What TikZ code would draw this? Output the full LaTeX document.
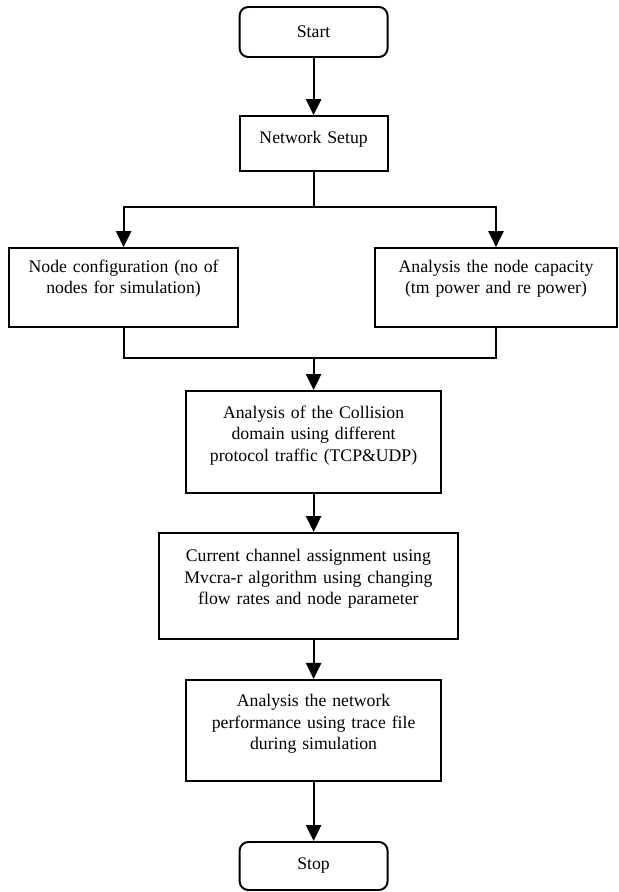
\documentclass[tikz,border=0pt]{standalone}
\usepackage{fontspec}
\setmainfont{Liberation Serif}
\usepackage{tikz}
\usetikzlibrary{arrows.meta, calc}
\tikzset{>={Triangle[length=4mm,width=3.8mm]}}
\tikzstyle{box} = [draw, line width=1.4pt, align=center, font=\fontsize{12.6}{15.3}\selectfont, text height=0pt]
\tikzstyle{term} = [draw, line width=1.4pt, rounded corners=2.2mm, font=\fontsize{12.6}{15.3}\selectfont, minimum width=3.7cm, minimum height=1.25cm]
\tikzstyle{flow} = [->, line width=1.4pt]
\tikzstyle{wire} = [line width=1.4pt]

\begin{document}
\begin{tikzpicture}
		\useasboundingbox (0,0) rectangle (15.475,22.3);
		
		% Coordinates
		\coordinate (split) at (7.84,17.125);
		\coordinate (merge) at (7.84,13.35);
		
		% Boxes
		\node[term] (start) at (7.84,21.5) {Start};
		\node[box, text width=3.45cm, minimum width=3.7cm, minimum height=1.375cm, text depth=0pt] (net) at (7.84,18.71) {Network Setup};
		\node[box, text width=5.49cm, minimum width=5.725cm, minimum height=1.975cm, text depth=22.1pt] (nodecfg) at (3.09,15.11) {Node configuration (no of\\nodes for simulation)};
		\node[box, text width=5.8cm, minimum width=6.05cm, minimum height=1.975cm, text depth=22.1pt] (capacity) at (12.4,15.11) {Analysis the node capacity\\(tm power and re power)};
		\node[box, text width=6.14cm, minimum width=6.375cm, minimum height=2.55cm, text depth=34.1pt] (coll) at (7.84,11.25) {Analysis of the Collision\\domain using different\\protocol traffic (TCP\&UDP)};
		\node[box, text width=7.24cm, minimum width=7.475cm, minimum height=2.65cm, text depth=34.2pt] (chan) at (7.71,7.65) {Current channel assignment using\\Mvcra-r algorithm using changing\\flow rates and node parameter};
		\node[box, text width=6.14cm, minimum width=6.375cm, minimum height=2.525cm, text depth=33.4pt] (perf) at (7.84,4.04) {Analysis the network\\performance using trace file\\during simulation};
		\node[term, minimum height=1.2cm] (stop) at (7.84,0.65) {Stop};
		
		% Arrows
		\draw[flow] (start) -- (net);
		\draw[wire] (net) -- (split);
		\draw[flow] (split) -| (nodecfg);
		\draw[flow] (split) -| (capacity);
		\draw[wire] (nodecfg) |- (merge);
		\draw[wire] (capacity) |- (merge);
		\draw[flow] (merge) -- (coll);
		\draw[flow] (coll.south) -- (coll.south |- chan.north);
		\draw[flow] (perf.north |- chan.south) -- (perf);
		\draw[flow] (perf) -- (stop);
	\end{tikzpicture}
\end{document}
